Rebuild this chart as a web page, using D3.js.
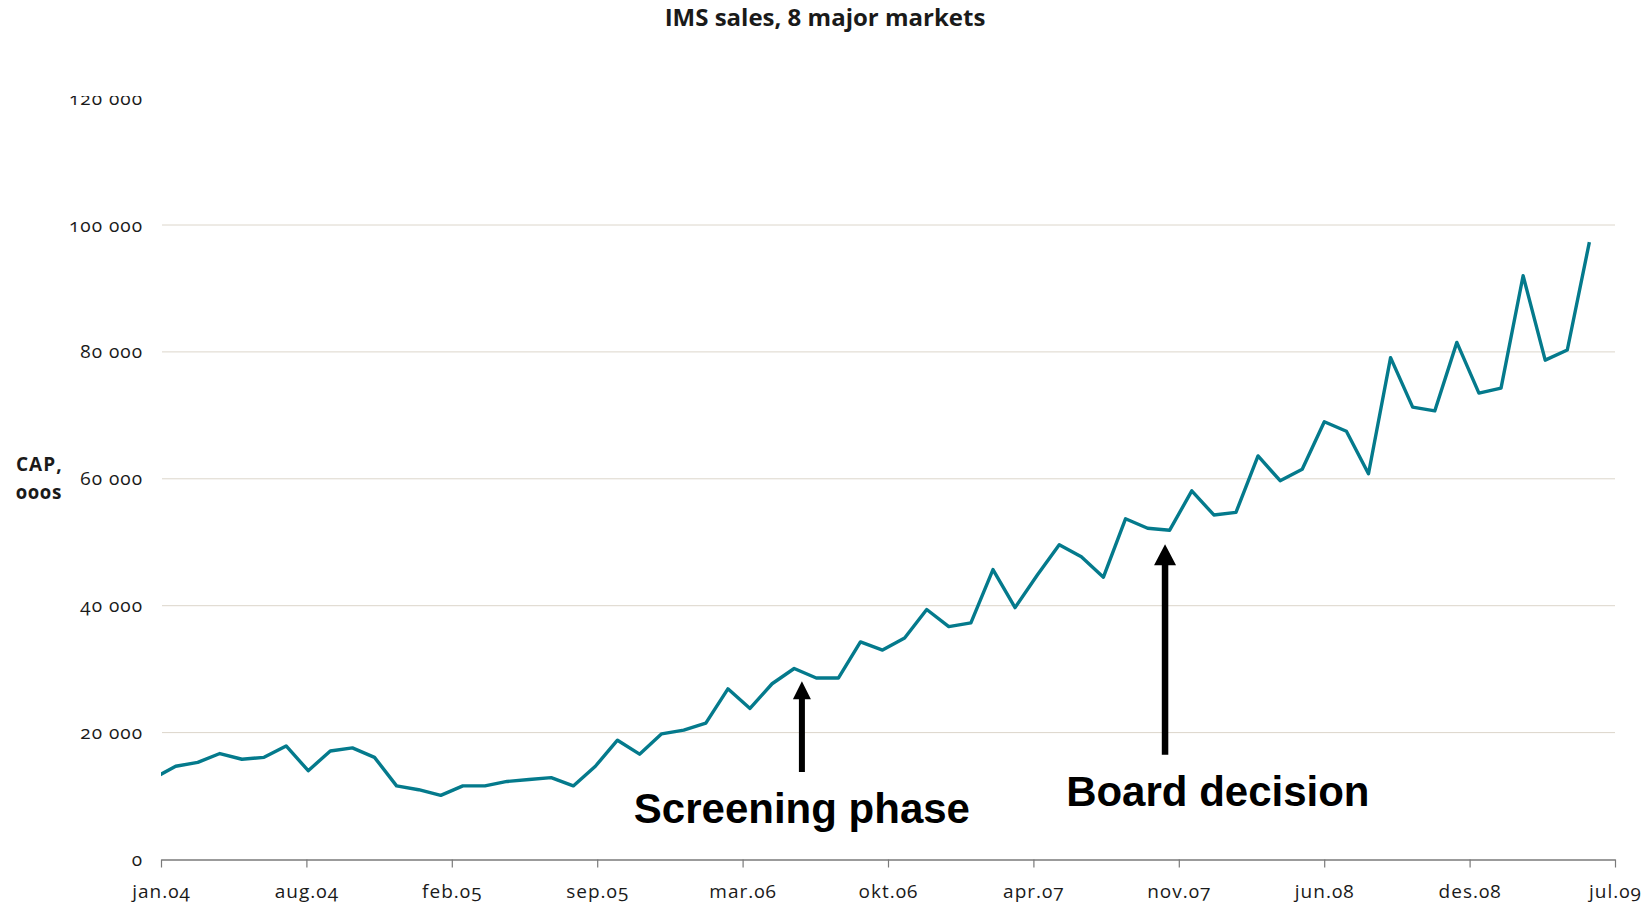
<!DOCTYPE html>
<html lang="en">
<head>
<meta charset="UTF-8">
<title>IMS sales, 8 major markets</title>
<script src="https://cdn.jsdelivr.net/npm/d3@7"></script>
<style>
  body { margin: 0; background: #fff; }
  text { font-family: "Open Sans", sans-serif; fill: #1a1a1a; }
  .lbl { font-size: 19px; letter-spacing: 1px; font-variant-numeric: oldstyle-nums; }
  .note { font-family: "Liberation Sans", Arial, sans-serif; font-weight: bold; font-size: 42px; fill: #000; }
</style>
</head>
<body>
<svg id="chart" width="1644" height="905"></svg>
<script>
var title = "IMS sales, 8 major markets";
var yTitle = ["CAP,", "000s"];
var xLabels = ["jan.04", "aug.04", "feb.05", "sep.05", "mar.06", "okt.06", "apr.07", "nov.07", "jun.08", "des.08", "jul.09"];
var yTicks = [0, 20000, 40000, 60000, 80000, 100000, 120000];
var gridTicks = [20000, 40000, 60000, 80000, 100000];

// monthly CAP (000s), jan.04 .. jun.09
var sales = [
  12800, 14700, 15300, 16700, 15800, 16100, 17900, 14000, 17100, 17600, 16100, 11600,
  11000, 10100, 11600, 11600, 12300, 12600, 12900, 11600, 14700, 18800, 16600, 19800,
  20400, 21500, 26900, 23800, 27700, 30100, 28600, 28600, 34300, 33000, 34900, 39400,
  36700, 37300, 45700, 39700, 44800, 49600, 47700, 44500, 53700, 52200, 51900, 58100,
  54300, 54700, 63600, 59700, 61500, 69000, 67500, 60800, 79100, 71300, 70700, 81500,
  73500, 74300, 92000, 78700, 80300, 97300
];

var notes = ["Screening phase", "Board decision"];

// excel date axis: starts a bit after the first point, ends after jun.09 (in months from jan.04)
var xStart = 0.335, xEnd = 66.16;

var svg = d3.select("#chart");
var plotL = 161, plotR = 1615, plotT = 98.1, plotB = 859.5;

var x = d3.scaleLinear().domain([xStart, xEnd]).range([plotL, plotR]);
var y = d3.scaleLinear().domain([0, 120000]).range([plotB, plotT]);

var fmt = d3.formatLocale({ decimal: ",", thousands: " ", grouping: [3], currency: ["", ""] }).format(",");

var defs = svg.append("defs");
defs.append("clipPath").attr("id", "plotclip")
  .append("rect").attr("x", plotL).attr("y", 0).attr("width", plotR - plotL).attr("height", 905);
defs.append("clipPath").attr("id", "ylabclip")
  .append("rect").attr("x", 0).attr("y", 96).attr("width", plotL).attr("height", 809);

// grid
svg.append("g").selectAll("line").data(gridTicks).join("line")
  .attr("x1", plotL + 1).attr("x2", plotR)
  .attr("y1", d => y(d)).attr("y2", d => y(d))
  .attr("stroke", "#dcd6cb").attr("stroke-width", 1);

// y labels (top one is cut by the plot area, as in the original)
var yAxis = svg.append("g")
  .attr("clip-path", "url(#ylabclip)")
  .append("g")
  .attr("transform", "translate(143,0)")
  .call(d3.axisLeft(y).tickValues(yTicks).tickSize(0).tickPadding(0).tickFormat(fmt));
yAxis.select(".domain").remove();
yAxis.selectAll("text").attr("class", "lbl").attr("dy", 6).attr("fill", "#1a1a1a");

// x axis
var tickVals = d3.range(xLabels.length).map(k => xStart + k * (xEnd - xStart) / (xLabels.length - 1));
var xAxis = svg.append("g")
  .attr("transform", "translate(0," + plotB + ")")
  .call(d3.axisBottom(x).tickValues(tickVals).tickSize(8).tickSizeOuter(0)
    .tickFormat((d, i) => xLabels[i]));
xAxis.select(".domain").attr("stroke", "#7a7a7a").attr("stroke-width", 1.5);
xAxis.selectAll(".tick line").attr("stroke", "#7a7a7a").attr("stroke-width", 1.2);
xAxis.selectAll("text").attr("class", "lbl").attr("y", 38.5).attr("dy", 0).attr("fill", "#1a1a1a");

// line
var line = d3.line().x((d, i) => x(i)).y(d => y(d));
svg.append("path")
  .datum(sales)
  .attr("clip-path", "url(#plotclip)")
  .attr("d", line)
  .attr("fill", "none")
  .attr("stroke", "#047a8c")
  .attr("stroke-width", 3.4)
  .attr("stroke-linejoin", "round");

// title
svg.append("text")
  .attr("x", 825).attr("y", 26)
  .attr("text-anchor", "middle")
  .style("font-weight", "bold").style("font-size", "24px")
  .text(title);

// axis title
svg.append("g").selectAll("text").data(yTitle).join("text")
  .attr("class", "lbl")
  .attr("x", 16).attr("y", (d, i) => 471 + i * 28)
  .style("font-weight", "bold")
  .text(d => d);

// annotations
function arrow(cx, yTip, yTail, sw, hw, hl) {
  return "M" + (cx - sw / 2) + "," + yTail + "V" + (yTip + hl) + "H" + (cx - hw / 2) +
    "L" + cx + "," + yTip + "L" + (cx + hw / 2) + "," + (yTip + hl) +
    "H" + (cx + sw / 2) + "V" + yTail + "Z";
}

svg.append("path").attr("d", arrow(x(29.35), y(28100), y(13800), 6, 18, 18)).attr("fill", "#000");
svg.append("path").attr("d", arrow(x(45.79), y(49700), y(16500), 6.5, 22, 21)).attr("fill", "#000");

svg.append("text").attr("class", "note")
  .attr("x", x(29.35)).attr("y", y(5800)).attr("text-anchor", "middle").text(notes[0]);
svg.append("text").attr("class", "note")
  .attr("x", x(48.18)).attr("y", y(8400)).attr("text-anchor", "middle").text(notes[1]);
</script>
</body>
</html>
